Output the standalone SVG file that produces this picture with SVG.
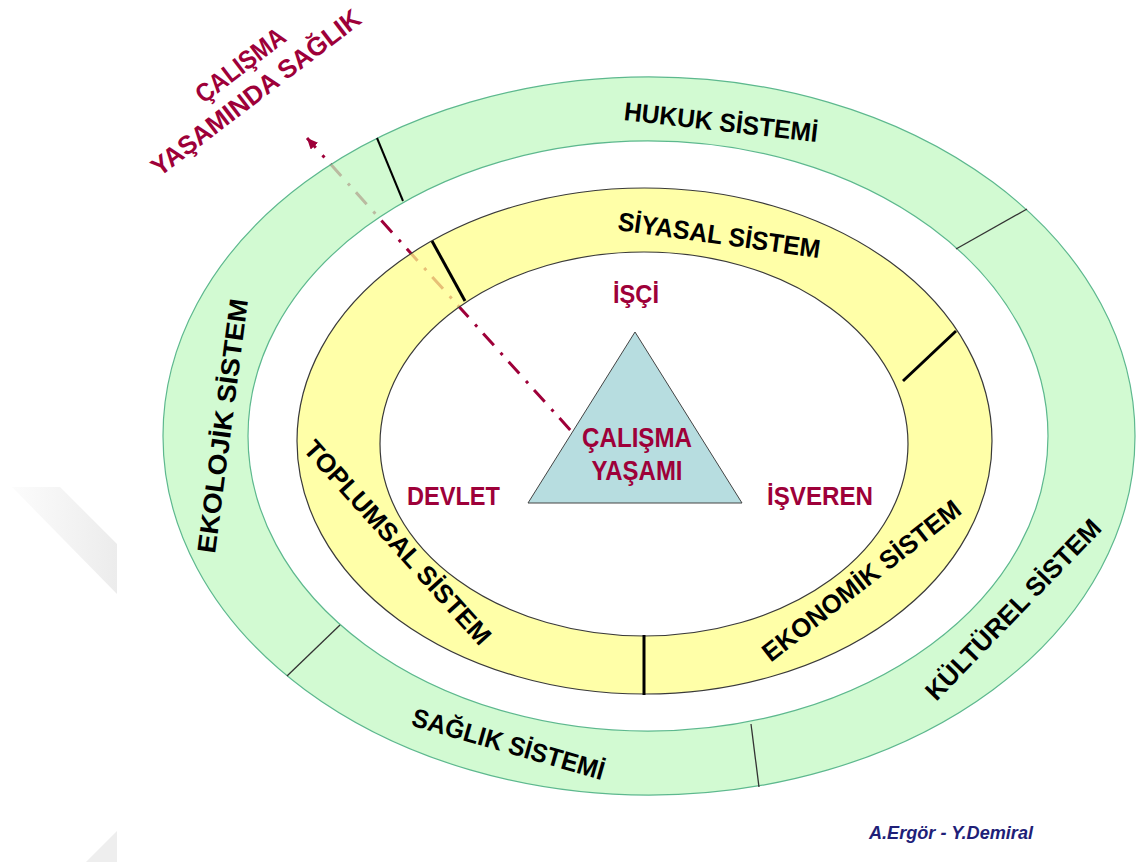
<svg xmlns="http://www.w3.org/2000/svg" width="1138" height="862" viewBox="0 0 1138 862">
<defs>
<style>
.lbl{font-family:"Liberation Sans",Arial,sans-serif;font-weight:bold;font-size:26px;fill:#000;text-anchor:middle}
.red{font-family:"Liberation Sans",Arial,sans-serif;font-weight:bold;font-size:26px;fill:#9E0039;text-anchor:middle}
.green{fill:#C3F8C3;fill-opacity:.75;fill-rule:evenodd;stroke:#5DB88E;stroke-width:1.2}
.yellow{fill:#FFFF8B;fill-opacity:.75;fill-rule:evenodd;stroke:#3a3a3a;stroke-width:1.2}
.thin{stroke:#333;stroke-width:1.3}
.thick{stroke:#000;stroke-width:3}
.credit{font-family:"Liberation Sans",Arial,sans-serif;font-weight:bold;font-style:italic;font-size:19px;fill:#1F1F78}
</style>
<marker id="arr" markerUnits="userSpaceOnUse" markerWidth="14" markerHeight="14" refX="11" refY="5" orient="auto"><path d="M0,0 L11,5 L0,10 z" fill="#9E0039"/></marker>
<linearGradient id="wm" x1="0" y1="0" x2="1" y2="0"><stop offset="0" stop-color="#FCFCFC"/><stop offset="1" stop-color="#ECECEC"/></linearGradient>
</defs>
<rect width="1138" height="862" fill="#fff"/>
<g id="watermark">
<polygon points="12,487 60,487 117,544 117,594" fill="url(#wm)"/>
<polygon points="86,862 117,831 117,862" fill="#EEEEEE"/>
</g>
<g id="connectors">
<path d="M572,432 L307,138" fill="none" stroke="#9E0039" stroke-width="3" stroke-dasharray="16 9 3 10" stroke-dashoffset="35.3" marker-end="url(#arr)"/>
</g>
<g id="outer-ring">
<path class="green" d="M163,436 A486,359 0 1,0 1135,436 A486,359 0 1,0 163,436 Z M248,436 A400,295 0 1,0 1048,436 A400,295 0 1,0 248,436 Z"/>
<line class="thin" x1="377" y1="138" x2="403" y2="201" style="stroke:#000;stroke-width:2"/>
<line class="thin" x1="1027" y1="209" x2="956" y2="249"/>
<line class="thin" x1="340" y1="625" x2="287" y2="676"/>
<line class="thin" x1="751" y1="724" x2="759" y2="787"/>
</g>
<g id="inner-ring">
<path class="yellow" d="M297,441 A347.5,253 0 1,0 992,441 A347.5,253 0 1,0 297,441 Z M380,444 A264,192 0 1,0 908,444 A264,192 0 1,0 380,444 Z"/>
<line class="thick" x1="432" y1="241" x2="465" y2="301"/>
<line class="thick" x1="956" y1="331" x2="903" y2="381"/>
<line class="thick" x1="644" y1="635" x2="644" y2="695"/>
</g>
<g id="hukuk"><text class="lbl" transform="translate(720,131) rotate(6.5)" textLength="195" lengthAdjust="spacingAndGlyphs">HUKUK SİSTEMİ</text></g>
<g id="ekolojik"><text class="lbl" transform="translate(231.5,427) rotate(-82.6)" textLength="256" lengthAdjust="spacingAndGlyphs">EKOLOJİK SİSTEM</text></g>
<g id="saglik"><text class="lbl" transform="translate(506,752.6) rotate(16)" textLength="199" lengthAdjust="spacingAndGlyphs">SAĞLIK SİSTEMİ</text></g>
<g id="kulturel"><text class="lbl" transform="translate(1019.5,615.8) rotate(-46)" textLength="240" lengthAdjust="spacingAndGlyphs">KÜLTÜREL SİSTEM</text></g>
<g id="siyasal"><text class="lbl" transform="translate(718,244) rotate(7.9)" textLength="204" lengthAdjust="spacingAndGlyphs">SİYASAL SİSTEM</text></g>
<g id="toplumsal"><text class="lbl" transform="translate(391,548.5) rotate(48)" textLength="265" lengthAdjust="spacingAndGlyphs">TOPLUMSAL SİSTEM</text></g>
<g id="ekonomik"><text class="lbl" transform="translate(867,587.6) rotate(-38)" textLength="244" lengthAdjust="spacingAndGlyphs">EKONOMİK SİSTEM</text></g>
<g id="calisma-yasami">
<polygon points="635,332 742,503 528,503" fill="#B7DDE0" stroke="#444" stroke-width="1"/>
<text class="red" style="font-size:28px" x="637" y="447" textLength="110" lengthAdjust="spacingAndGlyphs">ÇALIŞMA</text>
<text class="red" style="font-size:27px" x="637" y="480" textLength="91" lengthAdjust="spacingAndGlyphs">YAŞAMI</text>
</g>
<g id="isci"><text class="red" x="636" y="303" textLength="46" lengthAdjust="spacingAndGlyphs">İŞÇİ</text></g>
<g id="devlet"><text class="red" x="453.5" y="505" textLength="93" lengthAdjust="spacingAndGlyphs">DEVLET</text></g>
<g id="isveren"><text class="red" x="820" y="505" textLength="106" lengthAdjust="spacingAndGlyphs">İŞVEREN</text></g>
<g id="saglik-baslik">
<g transform="translate(245.8,72.1) rotate(-37.3)">
<text class="red" x="0" y="0" textLength="106" lengthAdjust="spacingAndGlyphs">ÇALIŞMA</text>
<text class="red" x="-4.4" y="31.3" textLength="256" lengthAdjust="spacingAndGlyphs">YAŞAMINDA SAĞLIK</text>
</g>
</g>
<g id="credit"><text class="credit" x="869" y="839" textLength="164" lengthAdjust="spacingAndGlyphs">A.Ergör - Y.Demiral</text></g>
</svg>
